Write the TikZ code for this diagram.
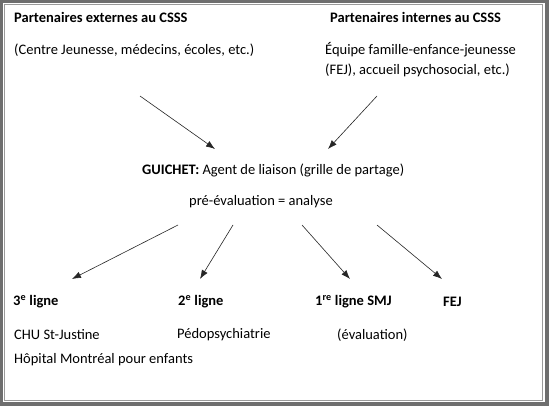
\documentclass[tikz,border=0pt]{standalone}
\usepackage{fontspec}
\setmainfont{Carlito}
\usetikzlibrary{arrows.meta}
\definecolor{framegray}{HTML}{6E6E6E}
\definecolor{linegray}{HTML}{9A9A9A}
\tikzset{
  txt/.style={anchor=west, inner sep=0pt, font=\fontsize{14.5}{17}\selectfont},
  btxt/.style={txt, font=\fontsize{14.5}{17}\selectfont\bfseries},
  arr/.style={draw=black!85, line width=0.6pt, -{Latex[length=9pt,width=6.5pt]}}
}
\begin{document}
\begin{tikzpicture}[x=1pt,y=-1pt]
\useasboundingbox (0,0) rectangle (549,406);
\fill[framegray] (0,0) rectangle (549,406);
\fill[white] (3,3) rectangle (545,402);
\draw[linegray, line width=1pt] (4.5,4.5) rectangle (542.5,400);
% top
\node[btxt] (ext) at (14,17) {Partenaires externes au CSSS};
\node[txt] (extd) at (14,50) {(Centre Jeunesse, médecins, écoles, etc.)};
\node[btxt] (int) at (330,17) {Partenaires internes au CSSS};
\node[txt] (intd1) at (325,50) {Équipe famille-enfance-jeunesse};
\node[txt] (intd2) at (325,70) {(FEJ), accueil psychosocial, etc.)};
% middle
\node[txt] (gui) at (142,170) {\textbf{GUICHET:} Agent de liaison (grille de partage)};
\node[txt] (pre) at (189,202) {pré-évaluation = analyse};
% bottom
\node[btxt] (l3) at (13,302) {3\textsuperscript{e} ligne};
\node[btxt] (l2) at (178,302) {2\textsuperscript{e} ligne};
\node[btxt] (l1) at (315,302) {1\textsuperscript{re} ligne SMJ};
\node[btxt] (fej) at (443,302) {FEJ};
\node[txt] (chu) at (14,335) {CHU St-Justine};
\node[txt] (ped) at (177,335) {Pédopsychiatrie};
\node[txt] (eva) at (337,335) {(évaluation)};
\node[txt] (hop) at (14,360) {Hôpital Montréal pour enfants};
% arrow endpoints
\coordinate (a1s) at (140,96);  \coordinate (a1e) at (215,149);
\coordinate (a2s) at (377,96);  \coordinate (a2e) at (328,149);
\coordinate (b1s) at (178,225); \coordinate (b1e) at (72,279);
\coordinate (b2s) at (233,225); \coordinate (b2e) at (200,279);
\coordinate (b3s) at (302,225); \coordinate (b3e) at (350,279);
\coordinate (b4s) at (377,225); \coordinate (b4e) at (442,279);
\draw[arr] (a1s) -- (a1e);
\draw[arr] (a2s) -- (a2e);
\draw[arr] (b1s) -- (b1e);
\draw[arr] (b2s) -- (b2e);
\draw[arr] (b3s) -- (b3e);
\draw[arr] (b4s) -- (b4e);
\end{tikzpicture}
\end{document}
